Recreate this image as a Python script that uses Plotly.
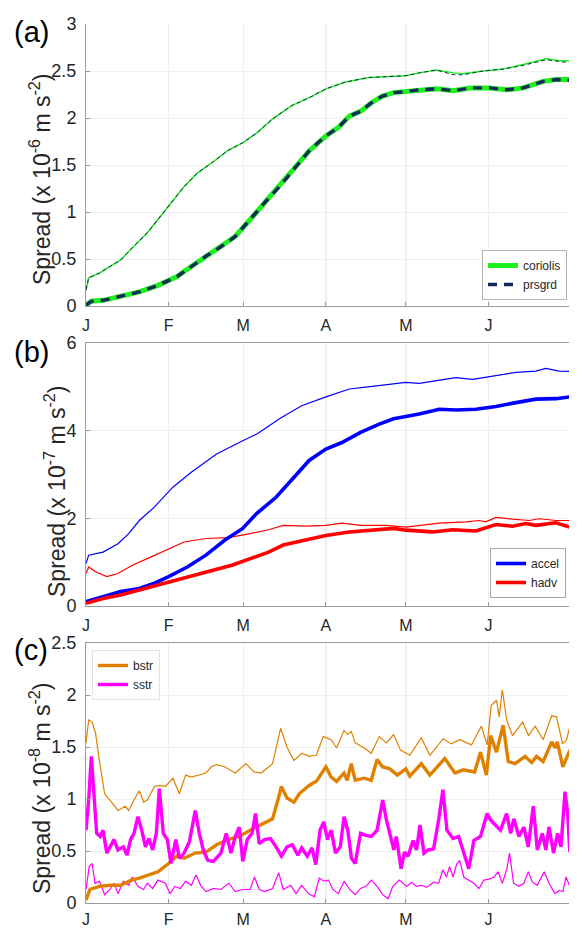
import plotly.graph_objects as go

# ---------------- axis categories ----------------
month_ticks = [0, 31, 59, 90, 120, 151]
month_labels = ["J", "F", "M", "A", "M", "J"]

# ---------------- panel (a) ----------------
coriolis_thin_days = [0, 1, 5, 9, 13, 17.4, 23, 27, 31, 36.8, 42, 48, 53, 59, 64, 70, 77, 84, 90, 97,
                      106, 112, 120, 125, 131.5, 137.8, 141.5, 149, 156.5, 164, 172.7, 177.7, 181.5]
coriolis_thin_vals = [0.17, 0.30, 0.35, 0.42, 0.49, 0.62, 0.78, 0.92, 1.06, 1.27, 1.42, 1.54, 1.65, 1.74,
                      1.84, 1.99, 2.13, 2.22, 2.31, 2.38, 2.43, 2.44, 2.45, 2.48, 2.51, 2.48, 2.47, 2.50,
                      2.52, 2.57, 2.63, 2.61, 2.61]
prsgrd_thin_vals = [0.17, 0.30, 0.35, 0.42, 0.49, 0.62, 0.78, 0.92, 1.06, 1.27, 1.42, 1.54, 1.65, 1.74,
                    1.84, 1.99, 2.13, 2.22, 2.31, 2.38, 2.43, 2.44, 2.45, 2.48, 2.51, 2.46, 2.46, 2.50,
                    2.52, 2.56, 2.62, 2.60, 2.59]

coriolis_thick_days = [0, 2, 6.4, 13, 20, 27, 34, 39.5, 45, 50.6, 56, 61.6, 67, 72.6, 78, 83.7, 90, 94.7,
                       98.8, 103, 107, 111, 115.4, 120, 125, 131.5, 137.8, 144, 151.5, 157.8, 164, 171.5,
                       176.5, 181.5]
coriolis_thick_vals = [0.01, 0.05, 0.06, 0.10, 0.15, 0.22, 0.31, 0.42, 0.53, 0.63, 0.74, 0.92, 1.10, 1.27,
                       1.45, 1.65, 1.81, 1.90, 2.02, 2.07, 2.16, 2.23, 2.27, 2.28, 2.30, 2.31, 2.29, 2.32,
                       2.32, 2.30, 2.32, 2.39, 2.41, 2.41]
prsgrd_thick_vals = [0.01, 0.05, 0.06, 0.10, 0.15, 0.22, 0.31, 0.42, 0.53, 0.63, 0.74, 0.92, 1.10, 1.27,
                     1.45, 1.65, 1.81, 1.90, 2.02, 2.07, 2.16, 2.23, 2.27, 2.28, 2.30, 2.31, 2.29, 2.32,
                     2.32, 2.30, 2.32, 2.39, 2.41, 2.40]

# ---------------- panel (b) ----------------
accel_thin_days = [0, 1, 6.4, 12, 16, 20, 25.7, 32.6, 39.5, 49, 58.8, 64, 72.6, 80.9, 90, 98.8, 105.8,
                   112.7, 120, 125, 132.5, 138.8, 145, 153.8, 161.3, 168.8, 172.5, 177.5, 181.5]
accel_thin_vals = [0.97, 1.16, 1.23, 1.42, 1.65, 1.95, 2.26, 2.71, 3.05, 3.47, 3.77, 3.92, 4.27, 4.57,
                   4.77, 4.95, 5.00, 5.05, 5.10, 5.08, 5.15, 5.21, 5.17, 5.25, 5.33, 5.36, 5.42, 5.36, 5.35]

accel_days = [0, 6.4, 13, 20, 25.7, 31, 38, 45, 52, 58.8, 64, 71.3, 78, 83.7, 90, 96, 103, 110, 115.4,
              120, 125, 132.5, 138.8, 146.3, 153.8, 161.3, 168.8, 176.3, 181.5]
accel_vals = [0.10, 0.21, 0.33, 0.40, 0.52, 0.67, 0.89, 1.16, 1.50, 1.77, 2.11, 2.48, 2.94, 3.32, 3.58,
              3.73, 3.96, 4.15, 4.27, 4.32, 4.38, 4.49, 4.47, 4.49, 4.55, 4.64, 4.72, 4.73, 4.77]

hadv_thin_days = [0, 1, 3.6, 7.8, 12, 17.4, 23, 29.8, 36.8, 45, 53.3, 61.6, 68.5, 74, 82.3, 90, 96, 103,
                  112.7, 120, 125, 132.5, 142.5, 147.5, 150, 153.8, 160, 166.3, 170, 176.3, 181.5]
hadv_thin_vals = [0.74, 0.89, 0.78, 0.67, 0.74, 0.93, 1.08, 1.27, 1.46, 1.54, 1.56, 1.65, 1.74, 1.84,
                  1.82, 1.84, 1.89, 1.84, 1.84, 1.80, 1.84, 1.89, 1.92, 1.95, 1.92, 2.02, 1.98, 1.95,
                  1.99, 1.95, 1.95]

hadv_days = [0, 6.4, 13, 20, 27, 34, 41, 48, 54.7, 61.6, 68.5, 74, 82.3, 90, 98.8, 105.8, 115.4, 120,
             130, 137.5, 146.3, 153.8, 160, 165, 168.8, 176.3, 181.5]
hadv_vals = [0.06, 0.17, 0.25, 0.36, 0.48, 0.59, 0.70, 0.82, 0.93, 1.08, 1.23, 1.39, 1.50, 1.61, 1.69,
             1.73, 1.77, 1.73, 1.69, 1.74, 1.71, 1.86, 1.82, 1.88, 1.84, 1.90, 1.80]

# ---------------- panel (c) ----------------
bstr_thin_days = [0, 1, 2.3, 3.6, 5, 7, 9, 12, 14.7, 16, 18, 20, 21.6, 23, 25.7, 27.8, 29.8, 32.6, 35,
                  37.4, 39.5, 45, 47, 49, 52, 56, 60, 63, 65.7, 70, 73, 75.4, 78, 81, 83.7, 86.4, 89,
                  92, 94, 96.8, 98, 99.5, 101, 104.4, 107, 110, 112.7, 115.4, 118, 121.5, 125.8, 129,
                  134, 137, 140.2, 144.6, 148.3, 150.5, 152, 154, 155, 156.2, 157.8, 160, 163.8, 166,
                  168.5, 171.5, 174.7, 176.5, 178.8, 180.3, 181.5]
bstr_thin_vals = [1.54, 1.76, 1.74, 1.63, 1.37, 1.05, 0.99, 0.89, 0.93, 0.89, 0.99, 1.08, 0.97, 0.99,
                  1.12, 1.13, 1.12, 1.20, 1.05, 1.23, 1.21, 1.25, 1.31, 1.33, 1.31, 1.25, 1.34, 1.26,
                  1.25, 1.34, 1.68, 1.50, 1.37, 1.44, 1.41, 1.42, 1.60, 1.57, 1.49, 1.66, 1.62, 1.65,
                  1.54, 1.49, 1.44, 1.60, 1.54, 1.62, 1.47, 1.42, 1.59, 1.42, 1.58, 1.53, 1.57, 1.52,
                  1.70, 1.52, 1.90, 1.95, 1.79, 2.05, 1.76, 1.61, 1.74, 1.61, 1.70, 1.57, 1.80, 1.79,
                  1.53, 1.57, 1.70]

bstr_days = [0, 1.5, 5, 9, 13, 17, 20, 24, 27, 31, 34, 36.8, 41, 45, 49, 53.3, 57.5, 61.6, 65.7, 70, 72,
             73.3, 75.4, 78, 80, 83.7, 86.4, 90, 92, 94, 96.8, 98, 99.5, 101, 104.4, 107, 109.2, 111.2,
             114, 116.8, 120, 121.5, 125.8, 129, 134.6, 138.4, 141.5, 145.8, 148, 150.2, 151.8, 154,
             156.5, 158.4, 161, 164.7, 167.2, 169, 171.5, 174.7, 176, 176.8, 178.9, 181.5]
bstr_vals = [0.03, 0.13, 0.16, 0.17, 0.17, 0.22, 0.24, 0.27, 0.30, 0.38, 0.45, 0.43, 0.48, 0.49, 0.56,
             0.61, 0.64, 0.70, 0.75, 0.81, 0.99, 1.12, 1.01, 0.97, 1.05, 1.13, 1.17, 1.31, 1.21, 1.17,
             1.25, 1.18, 1.34, 1.18, 1.20, 1.18, 1.38, 1.31, 1.29, 1.23, 1.29, 1.22, 1.34, 1.23, 1.39,
             1.25, 1.28, 1.26, 1.45, 1.23, 1.61, 1.45, 1.71, 1.36, 1.34, 1.41, 1.35, 1.41, 1.36, 1.55,
             1.49, 1.55, 1.31, 1.47]

sstr_days = [0, 1, 2, 3, 4, 5.3, 6.4, 7.8, 9, 10.5, 12, 14, 15.4, 16.7, 18, 19.5, 20.9, 22.3, 23.6, 25,
             26.4, 27.5, 29, 30.5, 31.9, 33.7, 35, 36.8, 38.8, 41, 42.5, 44, 45.7, 47.8, 50.6, 52.6,
             54.4, 56, 57.5, 58.8, 60.5, 62.3, 63.6, 65, 67, 69.2, 71.3, 73.3, 75.4, 77.4, 79.5, 80.9,
             83, 84.8, 86.2, 87.8, 89.2, 90.6, 92, 93.6, 95.4, 96.8, 98.2, 99.6, 101, 103, 105, 107.1,
             109.2, 111.3, 112.7, 114, 115.5, 116.4, 118.2, 119.5, 120.8, 122.7, 124, 125.3, 126.8,
             128.4, 130.4, 132.3, 133.9, 135.4, 137.7, 139.8, 141.7, 143.6, 145.5, 148, 150.5, 151.7,
             153.6, 155.5, 157.8, 159.3, 160.5, 162.4, 164.3, 165.9, 167.8, 169.3, 171.2, 172.5,
             173.7, 175.4, 176.9, 178.2, 179.7, 180.7, 181.5]
sstr_vals = [0.70, 0.99, 1.41, 0.99, 0.67, 0.64, 0.70, 0.48, 0.54, 0.61, 0.51, 0.54, 0.46, 0.61, 0.67,
             0.83, 0.70, 0.54, 0.62, 0.51, 0.67, 1.10, 0.67, 0.61, 0.38, 0.61, 0.43, 0.48, 0.59, 0.89,
             0.67, 0.51, 0.41, 0.40, 0.48, 0.67, 0.48, 0.64, 0.73, 0.40, 0.61, 0.67, 0.86, 0.57, 0.61,
             0.62, 0.54, 0.45, 0.54, 0.56, 0.46, 0.53, 0.45, 0.53, 0.37, 0.70, 0.78, 0.61, 0.70, 0.48,
             0.54, 0.83, 0.70, 0.43, 0.38, 0.67, 0.65, 0.64, 0.70, 0.99, 0.80, 0.67, 0.51, 0.64, 0.33,
             0.49, 0.45, 0.60, 0.51, 0.75, 0.48, 0.51, 0.52, 0.80, 1.09, 0.70, 0.62, 0.64, 0.48, 0.33,
             0.60, 0.64, 0.86, 0.80, 0.75, 0.70, 0.86, 0.67, 0.81, 0.64, 0.73, 0.54, 0.93, 0.51, 0.67,
             0.51, 0.73, 0.48, 0.67, 0.54, 1.07, 0.86, 0.49]

sstr_thin_days = [0, 1.2, 2.3, 3.4, 5, 7, 9, 10.5, 12, 14, 16, 17.4, 19.5, 21.6, 23, 25, 27, 29.8, 31.5,
                  33.3, 35.4, 37.4, 39.5, 41.3, 43, 45, 47.8, 50.6, 53.6, 56, 58.8, 61.6, 63.2, 65, 67,
                  70, 72.3, 74, 76.8, 78.8, 80.9, 83.4, 85.7, 87.5, 89.2, 91, 92.6, 94.7, 96.8, 98.9,
                  101, 103, 105, 107.1, 109.2, 111.3, 113.3, 115.1, 117.5, 120.3, 122.1, 124, 125.9,
                  127.8, 130.4, 132.3, 133.9, 135.2, 136.4, 137.7, 139, 140.2, 141.7, 143.6, 145.5,
                  147.4, 149.3, 151.2, 153.1, 154.6, 156.2, 157.9, 158.9, 160.4, 162.4, 164.3, 165.9,
                  167.5, 169.3, 171.9, 173.7, 175.9, 177.5, 178.9, 180.1, 181.5]
sstr_thin_vals = [0.13, 0.35, 0.38, 0.19, 0.21, 0.08, 0.13, 0.19, 0.09, 0.21, 0.17, 0.25, 0.16, 0.13,
                  0.19, 0.14, 0.22, 0.19, 0.09, 0.16, 0.14, 0.21, 0.17, 0.27, 0.17, 0.11, 0.14, 0.13,
                  0.19, 0.11, 0.13, 0.13, 0.25, 0.13, 0.11, 0.14, 0.29, 0.13, 0.17, 0.09, 0.17, 0.09,
                  0.06, 0.24, 0.21, 0.22, 0.13, 0.09, 0.21, 0.13, 0.08, 0.14, 0.16, 0.22, 0.16, 0.08,
                  0.04, 0.16, 0.22, 0.16, 0.20, 0.16, 0.17, 0.15, 0.20, 0.19, 0.32, 0.25, 0.35, 0.25,
                  0.37, 0.41, 0.25, 0.22, 0.19, 0.14, 0.22, 0.23, 0.25, 0.30, 0.19, 0.33, 0.48, 0.19,
                  0.16, 0.19, 0.30, 0.20, 0.17, 0.30, 0.19, 0.09, 0.12, 0.11, 0.25, 0.16]

# ---------------- colours / fonts ----------------
GREEN = "#1ef01e"
NAVY = "#142a5c"
BLUE = "#0000ff"
RED = "#ff0000"
ORANGE = "#e08000"
MAGENTA = "#ff00ff"
FONT = "Liberation Sans, Arial, sans-serif"
TXT = "#262626"

fig = go.Figure()


def add(x, y, color, width, axis, name=None, legend=None, dash=None, show=False):
    fig.add_trace(go.Scatter(
        x=x, y=y, mode="lines", name=name, showlegend=show,
        legend=legend, xaxis="x" + axis, yaxis="y" + axis,
        line=dict(color=color, width=width, dash=dash), hoverinfo="skip"))


# panel (a)
add(coriolis_thin_days, coriolis_thin_vals, GREEN, 1.5, "")
add(coriolis_thin_days, prsgrd_thin_vals, NAVY, 1.0, "", dash="4px,3px")
add(coriolis_thick_days, coriolis_thick_vals, GREEN, 5, "", name="coriolis", legend="legend", show=True)
add(coriolis_thick_days, prsgrd_thick_vals, NAVY, 3.4, "", name="prsgrd", legend="legend",
    dash="9px,7px", show=True)

# panel (b)
add(accel_thin_days, accel_thin_vals, BLUE, 1.2, "2")
add(hadv_thin_days, hadv_thin_vals, RED, 1.2, "2")
add(accel_days, accel_vals, BLUE, 3.6, "2", name="accel", legend="legend2", show=True)
add(hadv_days, hadv_vals, RED, 3.6, "2", name="hadv", legend="legend2", show=True)

# panel (c)
add(bstr_thin_days, bstr_thin_vals, ORANGE, 1.2, "3")
add(sstr_thin_days, sstr_thin_vals, MAGENTA, 1.2, "3")
add(bstr_days, bstr_vals, ORANGE, 3.4, "3", name="bstr", legend="legend3", show=True)
add(sstr_days, sstr_vals, MAGENTA, 3.4, "3", name="sstr", legend="legend3", show=True)

# page offset (browser body margin) compensation
OFF = 8
W, H = 577 - OFF, 929 - OFF
PL = 86 - OFF           # left of plot area inside figure
PW = W - PL             # plot width


def xp(xs):
    return (xs - 86) / PW


def yp(ys):
    return 1 - (ys - OFF) / H


def dom(top_px, bot_px):
    return [yp(bot_px), yp(top_px)]


panels = [("", dom(24, 306), [0, 3], [0, 0.5, 1, 1.5, 2, 2.5, 3], ["0", "0.5", "1", "1.5", "2", "2.5", "3"], False, 5),
          ("2", dom(343, 606), [0, 6], [0, 2, 4, 6], ["0", "2", "4", "6"], True, 5),
          ("3", dom(643, 903), [0, 2.5], [0, 0.5, 1, 1.5, 2, 2.5], ["0", "0.5", "1", "1.5", "2", "2.5"], True, 2)]

layout = dict(width=W, height=H, margin=dict(l=PL, r=0, t=0, b=0, autoexpand=False),
              paper_bgcolor="white", plot_bgcolor="white",
              font=dict(family=FONT, color=TXT, size=16))

for ax, d, yr, yt, ytl, mir, xstand in panels:
    layout["xaxis" + ax] = dict(domain=[0, 1], range=[0, 184.2], anchor="y" + ax, automargin=False,
                                tickvals=month_ticks, ticktext=month_labels,
                                showgrid=True, gridcolor="#efefef", zeroline=False,
                                showline=True, linecolor="#9a9a9a", linewidth=1, mirror=mir,
                                ticks="inside", ticklen=4, tickcolor="#9a9a9a",
                                tickfont=dict(size=16, family=FONT, color=TXT), ticklabelstandoff=xstand)
    layout["yaxis" + ax] = dict(domain=d, range=yr, anchor="x" + ax, automargin=False,
                                tickvals=yt, ticktext=ytl,
                                showgrid=True, gridcolor="#efefef", zeroline=False,
                                showline=True, linecolor="#9a9a9a", linewidth=1,
                                ticks="inside", ticklen=4, tickcolor="#9a9a9a",
                                tickfont=dict(size=18, family=FONT, color=TXT), ticklabelstandoff=5)

legend_common = dict(bgcolor="white", borderwidth=1,
                     font=dict(size=12, family=FONT, color=TXT), tracegroupgap=0,
                     itemwidth=30, orientation="v")
layout["legend"] = dict(x=xp(482), xanchor="left", y=yp(300), yanchor="bottom", bordercolor="#b4b4b4",
                        **legend_common)
layout["legend2"] = dict(x=xp(490), xanchor="left", y=yp(598), yanchor="bottom", bordercolor="#a8a8a8",
                         **legend_common)
layout["legend3"] = dict(x=xp(92), xanchor="left", y=yp(650), yanchor="top", bordercolor="#e2e2e2",
                         **legend_common)

fig.update_layout(**layout)

# darker vertical reference lines at A and M
for ax in ["", "2", "3"]:
    for xv in (month_ticks[3], month_ticks[4]):
        fig.add_shape(type="line", xref="x" + ax, yref="y" + ax + " domain",
                      x0=xv, x1=xv, y0=0, y1=1, line=dict(color="#d4d4d4", width=1), layer="below")

# y-axis titles and panel labels (screen pixel positions)
titles = [("Spread (x 10<sup>-6</sup> m s<sup>-2</sup>)", 40, 180, "(a)", 32),
          ("Spread (x 10<sup>-7</sup> m s<sup>-2</sup>)", 55, 492, "(b)", 352),
          ("Spread (x 10<sup>-8</sup> m s<sup>-2</sup>)", 40, 789, "(c)", 650)]
for txt, xc, yc, lab, ylab in titles:
    fig.add_annotation(text=txt, xref="paper", yref="paper", x=xp(xc), y=yp(yc),
                       xanchor="center", yanchor="middle", textangle=-90, showarrow=False,
                       font=dict(size=23, family=FONT, color=TXT))
    fig.add_annotation(text=lab, xref="paper", yref="paper", x=xp(31), y=yp(ylab),
                       xanchor="center", yanchor="middle", showarrow=False,
                       font=dict(size=29, family=FONT, color="black"))

fig.write_html("out.html")
